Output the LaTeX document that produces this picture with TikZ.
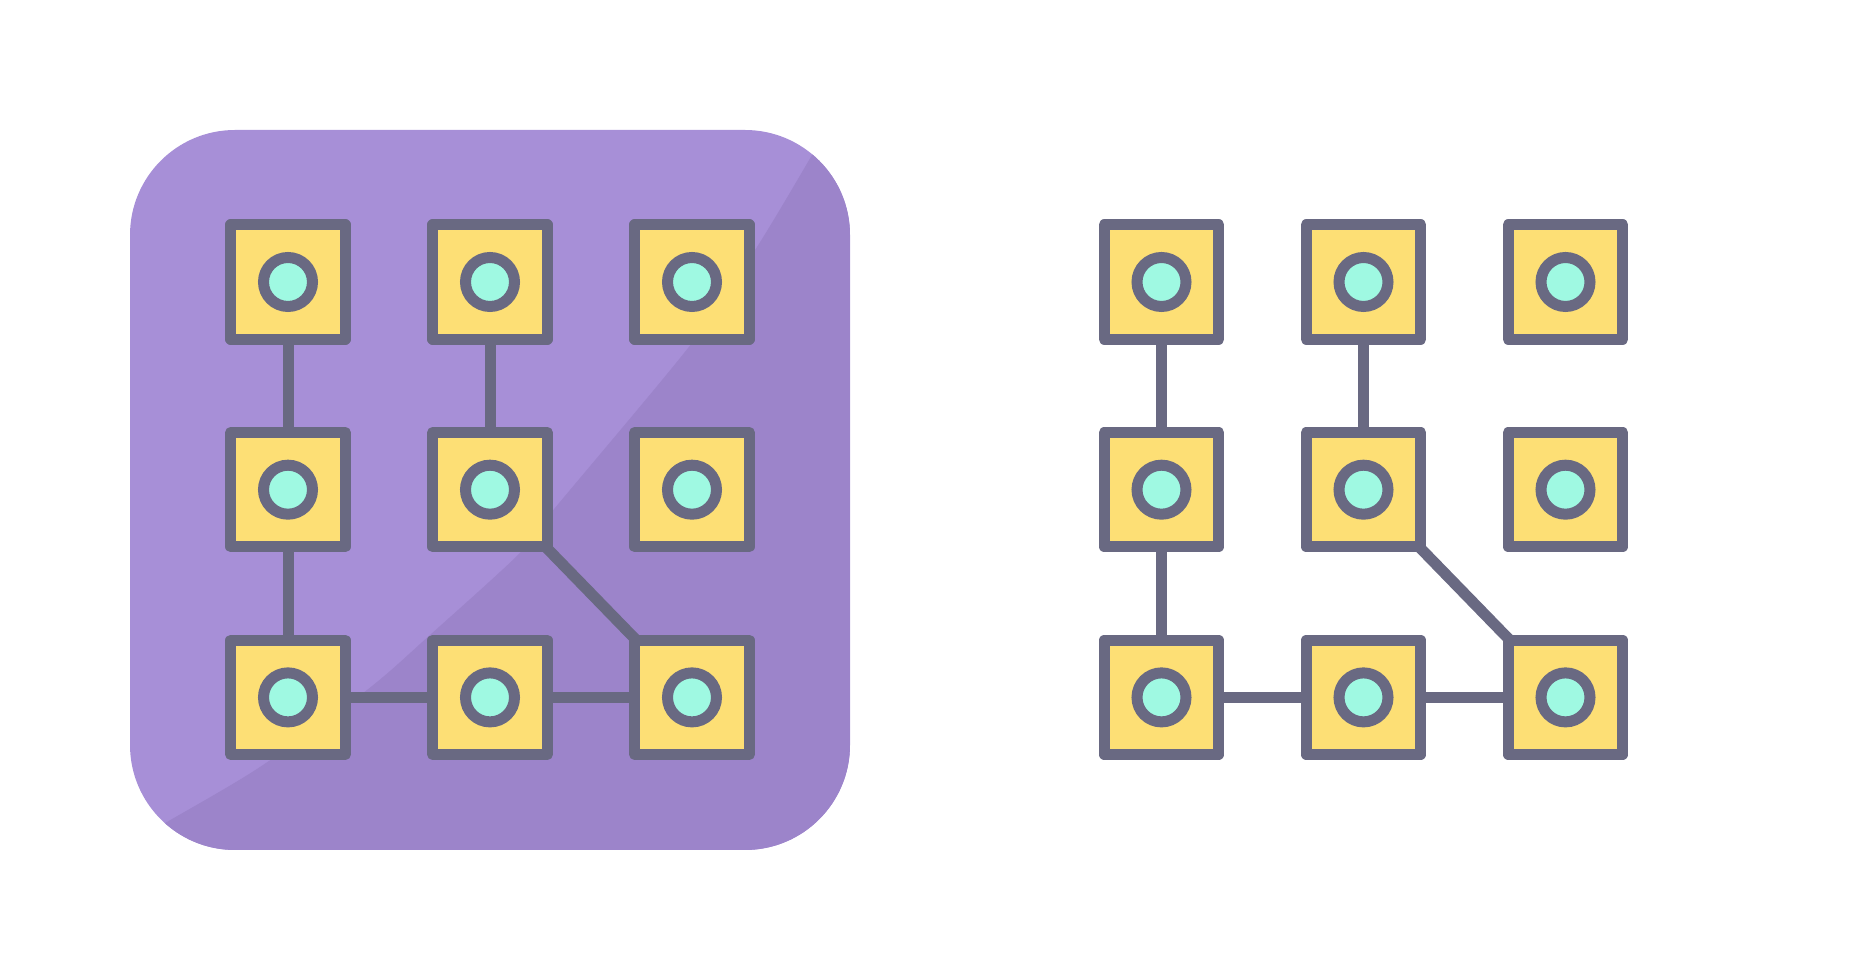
\documentclass[tikz,border=0pt]{standalone}
\usepackage{tikz}
\usetikzlibrary{positioning,backgrounds}
\definecolor{wirecol}{HTML}{696982}
\definecolor{padcol}{HTML}{FDDF75}
\definecolor{holecol}{HTML}{9FF9E2}
\definecolor{panellight}{HTML}{A78FD7}
\definecolor{paneldark}{HTML}{9C84CA}

\begin{document}
\begin{tikzpicture}[
  node distance=1.646cm and 1.532cm,
  padbox/.style={draw=wirecol, fill=padcol, line width=0.22cm, line join=round, inner sep=0pt, minimum size=2.288cm},
  padhole/.style={draw=wirecol, fill=holecol, line width=0.22cm, circle, inner sep=0pt, minimum size=0.98cm},
  wire/.style={draw=wirecol, line width=0.22cm}
]
\useasboundingbox (0,0) rectangle (37.08,19.6);

\node[padbox] (a11) at (5.76,13.96) {};
\node[padbox, right=of a11] (a12) {};
\node[padbox, right=of a12] (a13) {};
\node[padbox, below=of a11] (a21) {};
\node[padbox, right=of a21] (a22) {};
\node[padbox, right=of a22] (a23) {};
\node[padbox, below=of a21] (a31) {};
\node[padbox, right=of a31] (a32) {};
\node[padbox, right=of a32] (a33) {};

\node[padhole] (ah11) at (a11) {};
\node[padhole] (ah12) at (a12) {};
\node[padhole] (ah13) at (a13) {};
\node[padhole] (ah21) at (a21) {};
\node[padhole] (ah22) at (a22) {};
\node[padhole] (ah23) at (a23) {};
\node[padhole] (ah31) at (a31) {};
\node[padhole] (ah32) at (a32) {};
\node[padhole] (ah33) at (a33) {};

\node[padbox] (b11) at (23.23,13.96) {};
\node[padbox, right=of b11] (b12) {};
\node[padbox, right=of b12] (b13) {};
\node[padbox, below=of b11] (b21) {};
\node[padbox, right=of b21] (b22) {};
\node[padbox, right=of b22] (b23) {};
\node[padbox, below=of b21] (b31) {};
\node[padbox, right=of b31] (b32) {};
\node[padbox, right=of b32] (b33) {};

\node[padhole] (bh11) at (b11) {};
\node[padhole] (bh12) at (b12) {};
\node[padhole] (bh13) at (b13) {};
\node[padhole] (bh21) at (b21) {};
\node[padhole] (bh22) at (b22) {};
\node[padhole] (bh23) at (b23) {};
\node[padhole] (bh31) at (b31) {};
\node[padhole] (bh32) at (b32) {};
\node[padhole] (bh33) at (b33) {};

\begin{scope}[on background layer]
  \fill[panellight, rounded corners=2.1cm] (2.6,2.6) rectangle (17,17);
  \begin{scope}
    \clip[rounded corners=2.1cm] (2.6,2.6) rectangle (17,17);
    \fill[paneldark] plot[smooth] coordinates {(3.0,2.95) (3.34,3.16) (5.2,4.26) (7.34,5.8) (8.6,6.9) (10.4,8.54) (11,9.32) (13.84,12.74) (15.14,14.66) (16.24,16.5) (16.5,17)}
      -- (17,17) -- (17,2.6) -- (2.6,2.6) -- cycle;
  \end{scope}
  \draw[wire] (a11.center) -- (a21.center);
  \draw[wire] (a21.center) -- (a31.center);
  \draw[wire] (a12.center) -- (a22.center);
  \draw[wire] (a22.center) -- (a33.center);
  \draw[wire] (a31.center) -- (a32.center);
  \draw[wire] (a32.center) -- (a33.center);
  \draw[wire] (b11.center) -- (b21.center);
  \draw[wire] (b21.center) -- (b31.center);
  \draw[wire] (b12.center) -- (b22.center);
  \draw[wire] (b22.center) -- (b33.center);
  \draw[wire] (b31.center) -- (b32.center);
  \draw[wire] (b32.center) -- (b33.center);
\end{scope}
\end{tikzpicture}
\end{document}
